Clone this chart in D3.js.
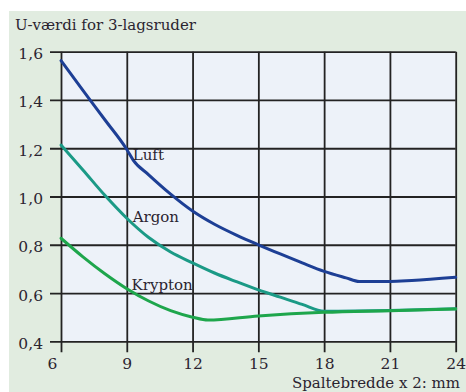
<!DOCTYPE html>
<html><head><meta charset="utf-8">
<script src="https://cdn.jsdelivr.net/npm/d3@7"></script>
<style>
html,body{margin:0;padding:0;background:#fff;}
svg{display:block;}
text{font-family:"DejaVu Serif",serif;fill:#2b2430;}
</style></head>
<body>
<svg id="c" width="466" height="392"></svg>
<script>
// ---- data ----
const title = "U-værdi for 3-lagsruder";
const xTitle = "Spaltebredde x 2: mm";
const xTicks = [6, 9, 12, 15, 18, 21, 24];
const yTicks = [0.4, 0.6, 0.8, 1.0, 1.2, 1.4, 1.6];
const seriesNames = ["Luft", "Argon", "Krypton"];
const luftX = [6, 7, 8, 9, 9.3, 10, 11, 12, 13, 14, 15, 16, 17, 18, 19, 19.6, 21, 22, 24];
const luftY = [1.563, 1.44, 1.318, 1.195, 1.15, 1.09, 1.01, 0.94, 0.885, 0.84, 0.80, 0.762, 0.725, 0.69, 0.663, 0.648, 0.648, 0.652, 0.665];
const argonX = [6, 7, 8, 9, 10, 11, 12, 13, 14, 15, 16, 17, 18, 21, 24];
const argonY = [1.213, 1.11, 1.005, 0.91, 0.83, 0.77, 0.725, 0.683, 0.647, 0.613, 0.583, 0.553, 0.525, 0.528, 0.535];
const kryptonX = [6, 7, 8, 9, 10, 11, 12, 12.7, 15, 18, 21, 24];
const kryptonY = [0.827, 0.75, 0.68, 0.618, 0.567, 0.527, 0.5, 0.488, 0.505, 0.52, 0.527, 0.534];
const labelX = [9.27, 9.27, 9.22];
const labelY = [1.151, 0.895, 0.612];
const colors = ["#1d3f95", "#1b9a86", "#1ea64c"];

// ---- layout ----
const svg = d3.select("#c");
const L = 61, R = 455.7, T = 51.7, B = 341.3;
const x = d3.scaleLinear().domain([6, 24]).range([L, R]);
const y = d3.scaleLinear().domain([0.4, 1.6]).range([B, T]);
const fmt = d3.formatLocale({decimal: ",", thousands: ".", grouping: [3], currency: ["", ""]}).format(".1f");

svg.append("rect").attr("x", 9).attr("y", 11).attr("width", 457).attr("height", 381).attr("fill", "#e1ece0");
svg.append("rect").attr("x", L).attr("y", T).attr("width", R - L).attr("height", B - T).attr("fill", "#edf2f9");

svg.append("text").attr("x", 15).attr("y", 30).attr("font-size", 15).text(title);

const gx = svg.append("g").attr("transform", `translate(0,${T})`)
  .call(d3.axisBottom(x).tickValues(xTicks).tickFormat(d3.format("d")).tickSize(B - T + 11).tickPadding(6));
const gy = svg.append("g").attr("transform", `translate(${R},0)`)
  .call(d3.axisLeft(y).tickValues(yTicks).tickFormat(fmt).tickSize(R - L + 11).tickPadding(7));
[gx, gy].forEach(g => {
  g.select(".domain").remove();
  g.selectAll(".tick line").attr("stroke", "#232323").attr("stroke-width", 1.8);
  g.selectAll(".tick text").attr("font-family", "DejaVu Serif").attr("font-size", 15.5).attr("fill", "#2b2430");
});
gy.selectAll(".tick text").attr("dy", "0.45em");
gx.selectAll(".tick text").filter(d => d === 6).attr("dx", -9);

const sets = [[luftX, luftY], [argonX, argonY], [kryptonX, kryptonY]];
const line = d3.line().x(d => x(d[0])).y(d => y(d[1])).curve(d3.curveMonotoneX);
sets.forEach((s, i) => {
  const pts = s[0].map((v, j) => [v, s[1][j]]);
  svg.append("path").attr("d", line(pts)).attr("fill", "none")
    .attr("stroke", colors[i]).attr("stroke-width", 3).attr("stroke-linecap", "round");
});
seriesNames.forEach((n, i) => {
  svg.append("text").attr("x", x(labelX[i])).attr("y", y(labelY[i])).attr("font-size", 15).text(n);
});

svg.append("text").attr("x", 460).attr("y", 388).attr("text-anchor", "end").attr("font-size", 15).text(xTitle);
</script>
</body></html>
